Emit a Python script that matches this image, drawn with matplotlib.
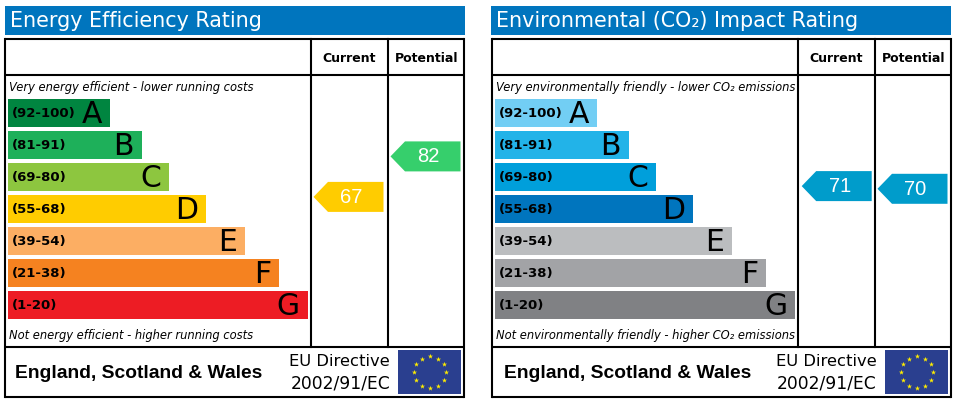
import numpy as np
import matplotlib
matplotlib.use("Agg")
import matplotlib.pyplot as plt
from matplotlib.patches import Rectangle

# Chart data
BANDS = ["(92-100)", "(81-91)", "(69-80)", "(55-68)", "(39-54)", "(21-38)", "(1-20)"]
LETTERS = ["A", "B", "C", "D", "E", "F", "G"]
BAND_LENGTHS = [102, 134, 161, 198, 237, 271, 300]
ENERGY_COLORS = ["#008540", "#1EB05A", "#8DC63F", "#FFCC00", "#FCAE63", "#F58220", "#ED1C24"]
CO2_COLORS = ["#72CEF4", "#22B3E8", "#009FDB", "#0075BE", "#BBBDBF", "#A2A3A6", "#808184"]
ENERGY_RATINGS = [67, 82]
CO2_RATINGS = [71, 70]
ENERGY_ARROW_COLORS = ["#FFCC00", "#36CF6C"]
CO2_ARROW_COLORS = ["#009CCB", "#009CCB"]
COLUMNS = ["Current", "Potential"]

BLUE = "#0075BE"
PANEL_OFFSET = 487


def rating_y(rating):
    return 377.8 - 2.7 * rating


def hline(ax, x0, x1, y):
    ax.plot([x0, x1], [y, y], color="black", lw=1.5, solid_capstyle="butt")


def vline(ax, x, y0, y1):
    ax.plot([x, x], [y0, y1], color="black", lw=1.5, solid_capstyle="projecting")


def draw_panel(ax, dx, strip_x, footer_x, arrow_rights, title, top_note, bottom_note,
               colors, ratings, arrow_colors):
    # Title strip
    ax.add_patch(Rectangle((strip_x, 6), 460, 29, color=BLUE, lw=0))
    ax.text(strip_x + 5, 21, title, color="white", fontsize=14.9, va="center", ha="left")

    # Frame
    hline(ax, dx + 5, dx + 464, 39)
    hline(ax, dx + 5, dx + 464, 75)
    hline(ax, dx + 5, dx + 464, 346.5)
    hline(ax, dx + 5, dx + 464, 396.5)
    vline(ax, dx + 5, 39, 396.5)
    vline(ax, dx + 464, 39, 396.5)
    vline(ax, dx + 311, 39, 346.5)
    vline(ax, dx + 388, 39, 346.5)

    centers = [dx + 349.5, dx + 426.5]
    for cx, name in zip(centers, COLUMNS):
        ax.text(cx, 58.5, name, fontsize=9, fontweight="bold", ha="center", va="center")

    ax.text(dx + 9, 87.5, top_note, fontsize=8.3, style="italic", va="center")
    ax.text(dx + 9, 336, bottom_note, fontsize=8.3, style="italic", va="center")

    # Rating bands
    y = 113 + 32 * np.arange(len(BANDS))
    ax.barh(y, BAND_LENGTHS, height=28, left=dx + 8, color=colors, lw=0)
    for yi, length, band, letter in zip(y, BAND_LENGTHS, BANDS, LETTERS):
        ax.text(dx + 12, yi + 0.5, band, fontsize=9.5, fontweight="bold", va="center")
        ax.text(dx + 8 + length - 8, yi + 1.5, letter, fontsize=21.5, ha="right", va="center")

    # Rating arrows
    for right, rating, color in zip(arrow_rights, ratings, arrow_colors):
        yc = rating_y(rating)
        ax.fill(
            [right - 70, right - 55.5, right, right, right - 55.5],
            [yc, yc - 15, yc - 15, yc + 15, yc + 15],
            color=color,
            lw=0,
        )
        ax.text(right - 32, yc + 0.5, str(rating), color="white", fontsize=14.5,
                family="Liberation Sans", ha="center", va="center")

    # Footer
    ax.text(footer_x, 373.5, "England, Scotland & Wales", fontsize=13.9, fontweight="bold",
            family="Liberation Sans", va="center")
    ax.text(dx + 390, 362, "EU Directive", fontsize=11.8, ha="right", va="center")
    ax.text(dx + 390, 383, "2002/91/EC", fontsize=12.3, ha="right", va="center")

    # EU flag
    ax.add_patch(Rectangle((dx + 398, 350), 63, 44, color="#2A3F8F", lw=0))
    angles = np.deg2rad(np.arange(0, 360, 30))
    ax.scatter(dx + 429.7 + 16 * np.sin(angles), 372.4 - 16 * np.cos(angles),
               marker="*", s=15, color="#FFED00", lw=0, zorder=3)


fig = plt.figure(figsize=(9.57, 4.04), dpi=100)
ax = fig.add_axes([0, 0, 1, 1])
ax.set_xlim(0, 957)
ax.set_ylim(404, 0)
ax.axis("off")

draw_panel(ax, 0, 5, 15, [383.5, 460.5], "Energy Efficiency Rating",
           "Very energy efficient - lower running costs",
           "Not energy efficient - higher running costs",
           ENERGY_COLORS, ENERGY_RATINGS, ENERGY_ARROW_COLORS)
draw_panel(ax, PANEL_OFFSET, 491, 504, [871.7, 947.5], "Environmental (CO₂) Impact Rating",
           "Very environmentally friendly - lower CO₂ emissions",
           "Not environmentally friendly - higher CO₂ emissions",
           CO2_COLORS, CO2_RATINGS, CO2_ARROW_COLORS)

fig.savefig("out.png", dpi=100)
